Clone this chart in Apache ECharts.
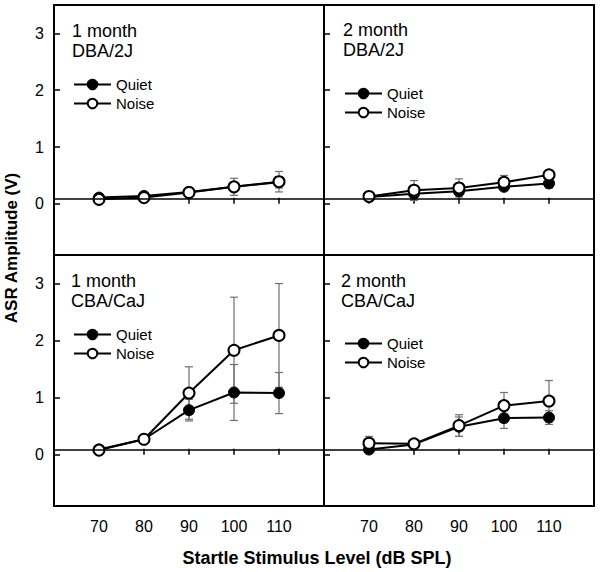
<!DOCTYPE html>
<html>
<head>
<meta charset="utf-8">
<script src="https://cdn.jsdelivr.net/npm/echarts@6/dist/echarts.min.js"></script>
<style>html,body{margin:0;padding:0;background:#fff}#c{width:600px;height:572px}</style>
</head>
<body>
<div id="c"></div>
<script>
const xLevels = [70, 80, 90, 100, 110];
const xTickLabels = [70, 80, 90, 100, 110];
const yTickLabels = [0, 1, 2, 3];
const baseline = 0.09;

const panelLabels = ['1 month\nDBA/2J', '2 month\nDBA/2J', '1 month\nCBA/CaJ', '2 month\nCBA/CaJ'];

const quiet_1m_DBA = [0.11, 0.14, 0.21, 0.30, 0.38];
const noise_1m_DBA = [0.08, 0.11, 0.20, 0.30, 0.39];
const quietErr_1m_DBA = [0.02, 0.03, 0.03, 0.07, 0.10];
const noiseErr_1m_DBA = [0.03, 0.03, 0.04, 0.15, 0.18];

const quiet_2m_DBA = [0.12, 0.18, 0.22, 0.30, 0.36];
const noise_2m_DBA = [0.13, 0.24, 0.28, 0.38, 0.51];
const quietErr_2m_DBA = [0.03, 0.12, 0.05, 0.05, 0.08];
const noiseErr_2m_DBA = [0.03, 0.17, 0.16, 0.12, 0.08];

const quiet_1m_CBA = [0.09, 0.27, 0.78, 1.09, 1.08];
const noise_1m_CBA = [0.08, 0.27, 1.08, 1.83, 2.09];
const quietErr_1m_CBA = [0.02, 0.03, 0.19, 0.49, 0.36];
const noiseErr_1m_CBA = [0.02, 0.04, 0.46, 0.93, 0.91];

const quiet_2m_CBA = [0.09, 0.18, 0.49, 0.64, 0.65];
const noise_2m_CBA = [0.20, 0.19, 0.51, 0.86, 0.94];
const quietErr_2m_CBA = [0.03, 0.03, 0.17, 0.18, 0.12];
const noiseErr_2m_CBA = [0.12, 0.03, 0.19, 0.23, 0.36];

const panels = [
  { q: quiet_1m_DBA, n: noise_1m_DBA, qe: quietErr_1m_DBA, ne: noiseErr_1m_DBA },
  { q: quiet_2m_DBA, n: noise_2m_DBA, qe: quietErr_2m_DBA, ne: noiseErr_2m_DBA },
  { q: quiet_1m_CBA, n: noise_1m_CBA, qe: quietErr_1m_CBA, ne: noiseErr_1m_CBA },
  { q: quiet_2m_CBA, n: noise_2m_CBA, qe: quietErr_2m_CBA, ne: noiseErr_2m_CBA }
];

const FONT = 'Liberation Sans, Arial, sans-serif';
const gridPos = [
  { left: 54, top: 5, width: 270, height: 250 },
  { left: 324, top: 5, width: 270, height: 250 },
  { left: 54, top: 255, width: 270, height: 251 },
  { left: 324, top: 255, width: 270, height: 251 }
];
const titlePos = [[72, 21], [343, 20], [71, 271], [341, 271]];
const legendPos = [[73, 77], [344, 86], [73, 327], [344, 336]];

const grid = gridPos.map(g => Object.assign({ show: true, borderColor: '#000', borderWidth: 2, backgroundColor: 'transparent' }, g));

const xAxis = gridPos.map((g, i) => ({
  type: 'value', gridIndex: i, min: 60, max: 120,
  axisLine: { show: false },
  splitLine: { show: false },
  axisTick: { show: true, inside: true, length: 6, customValues: xTickLabels, lineStyle: { color: '#000', width: 1.5 } },
  axisLabel: { show: i >= 2, customValues: xTickLabels, margin: 12, fontSize: 16, color: '#000', fontFamily: FONT }
}));
const yAxis = gridPos.map((g, i) => ({
  type: 'value', gridIndex: i, min: -0.9, max: 3.5,
  axisLine: { show: false },
  splitLine: { show: false },
  axisTick: { show: true, inside: true, length: 6, customValues: yTickLabels, lineStyle: { color: '#000', width: 1.5 } },
  axisLabel: { show: i % 2 === 0, customValues: yTickLabels, margin: 10, fontSize: 16, color: '#000', fontFamily: FONT }
}));

function errSeries(i, vals, errs) {
  return {
    type: 'custom', xAxisIndex: i, yAxisIndex: i, silent: true, z: 1,
    data: xLevels.map((x, k) => [x, vals[k] - errs[k], vals[k] + errs[k]]),
    renderItem: function (params, api) {
      const lo = api.coord([api.value(0), api.value(1)]);
      const hi = api.coord([api.value(0), api.value(2)]);
      const w = 4;
      const st = { stroke: '#707070', lineWidth: 1.2 };
      return {
        type: 'group', children: [
          { type: 'line', shape: { x1: lo[0], y1: lo[1], x2: hi[0], y2: hi[1] }, style: st },
          { type: 'line', shape: { x1: lo[0] - w, y1: lo[1], x2: lo[0] + w, y2: lo[1] }, style: st },
          { type: 'line', shape: { x1: hi[0] - w, y1: hi[1], x2: hi[0] + w, y2: hi[1] }, style: st }
        ]
      };
    }
  };
}

const series = [];
panels.forEach((p, i) => {
  series.push(errSeries(i, p.q, p.qe));
  series.push(errSeries(i, p.n, p.ne));
  series.push({
    name: 'Quiet', type: 'line', xAxisIndex: i, yAxisIndex: i, z: 3,
    data: xLevels.map((x, k) => [x, p.q[k]]),
    symbol: 'circle', symbolSize: 11,
    lineStyle: { color: '#000', width: 2 },
    itemStyle: { color: '#000', borderColor: '#000', borderWidth: 1 },
    markLine: {
      silent: true, symbol: 'none', label: { show: false },
      lineStyle: { color: '#000', width: 1.5, type: 'solid' },
      data: [{ yAxis: baseline }]
    }
  });
  series.push({
    name: 'Noise', type: 'line', xAxisIndex: i, yAxisIndex: i, z: 4,
    data: xLevels.map((x, k) => [x, p.n[k]]),
    symbol: 'circle', symbolSize: 11,
    lineStyle: { color: '#000', width: 2 },
    itemStyle: { color: '#fff', borderColor: '#000', borderWidth: 2 }
  });
});

const title = panelLabels.map((t, i) => ({
  text: t, left: titlePos[i][0], top: titlePos[i][1], padding: 0,
  textStyle: { fontSize: 18, fontWeight: 'normal', color: '#000', lineHeight: 20, fontFamily: FONT }
}));

const legend = legendPos.map((lp, i) => ({
  data: ['Quiet', 'Noise'], orient: 'vertical', left: lp[0], top: lp[1], padding: 0,
  itemWidth: 37, itemHeight: 12, itemGap: 4, selectedMode: false,
  textStyle: { fontSize: 15, color: '#000', fontFamily: FONT, lineHeight: 15 }
}));

const chart = echarts.init(document.getElementById('c'), null, { renderer: 'svg' });
chart.setOption({
  animation: false,
  backgroundColor: '#fff',
  title: title,
  legend: legend,
  grid: grid,
  xAxis: xAxis,
  yAxis: yAxis,
  series: series,
  graphic: [
    { type: 'text', x: 11, y: 248, rotation: Math.PI / 2,
      style: { text: 'ASR Amplitude (V)', fontSize: 17, fontWeight: 'bold', fill: '#000', fontFamily: FONT, align: 'center', verticalAlign: 'middle' } },
    { type: 'text', x: 317, y: 558,
      style: { text: 'Startle Stimulus Level (dB SPL)', fontSize: 18, fontWeight: 'bold', fill: '#000', fontFamily: FONT, align: 'center', verticalAlign: 'middle' } }
  ]
});
</script>
</body>
</html>
